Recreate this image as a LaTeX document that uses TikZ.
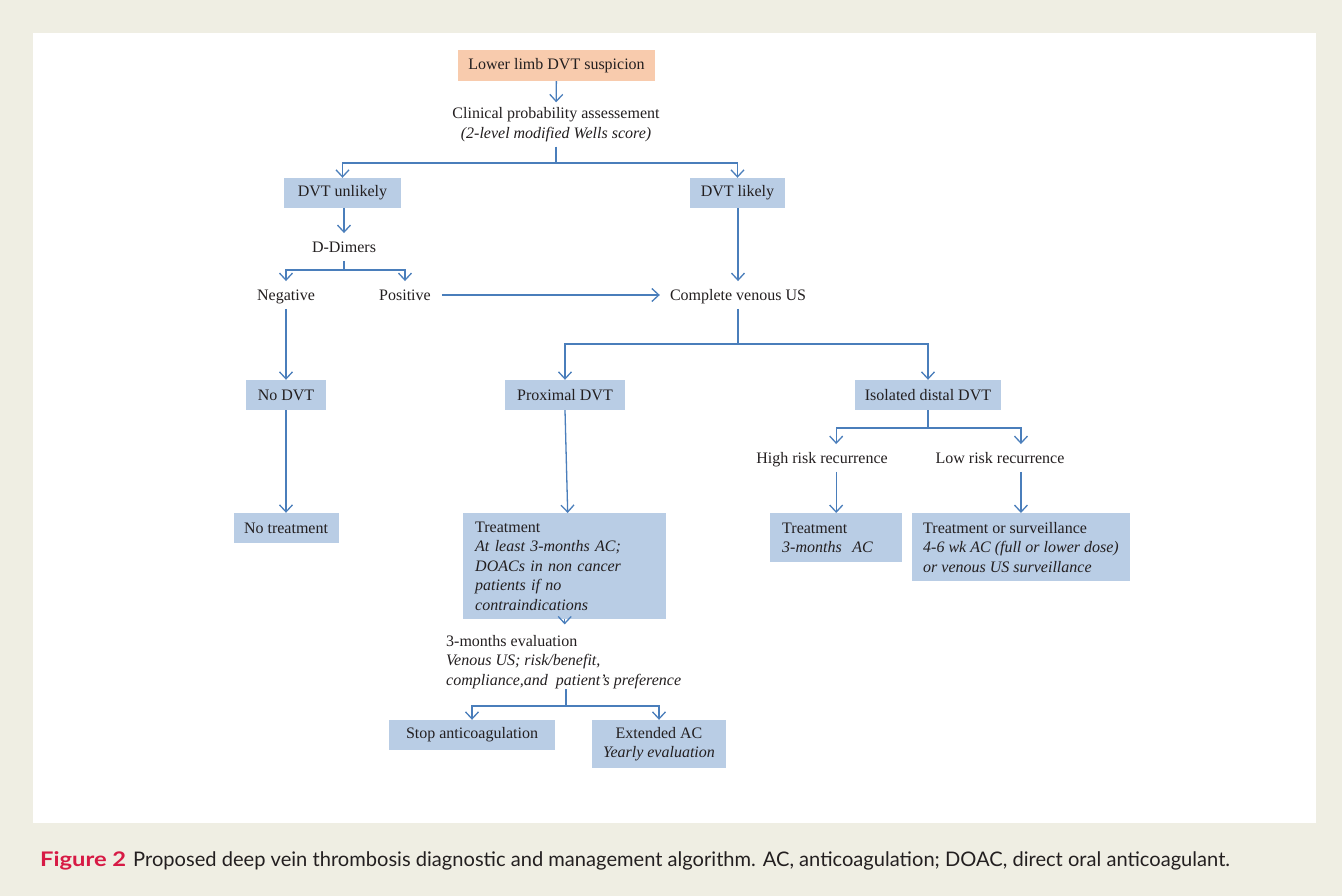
\documentclass[tikz,border=0pt]{standalone}
\usepackage{fontspec}
\setmainfont{Liberation Serif}
\newfontfamily\capfont{Lato}
\usetikzlibrary{arrows.meta}
\definecolor{bgout}{HTML}{EFEEE3}
\definecolor{boxblue}{HTML}{B9CDE5}
\definecolor{peach}{HTML}{F8CBAD}
\definecolor{arrblue}{HTML}{4A7EBB}
\definecolor{txtc}{HTML}{231F20}
\definecolor{figred}{HTML}{D71A45}
\begin{document}
\begin{tikzpicture}[x=1pt,y=-1pt,
  font=\fontsize{16}{19.5}\selectfont,
  every node/.style={text=txtc},
  box/.style={fill=boxblue, inner sep=0pt, align=center},
  tbox/.style={fill=boxblue, anchor=north west, inner xsep=12pt, inner ysep=4pt, align=left},
  txt/.style={inner xsep=2pt, inner ysep=5pt, align=center},
  one/.style={txt, text height=14pt, text depth=3.5pt},
  ln/.style={draw=arrblue, line width=1.3pt},
  arr/.style={draw=arrblue, line width=1.3pt, -{Straight Barb[length=7pt,width=13pt]}}]
\useasboundingbox (0,0) rectangle (1342,896);
\fill[bgout] (0,0) rectangle (1342,896);
\fill[white] (33,33) rectangle (1316,823);

% nodes
\node[box, fill=peach, minimum width=197pt, minimum height=31pt] (susp) at (556.5,65.5) {Lower limb DVT suspicion};
\node[txt] (clin) at (556,124.5) {Clinical probability assessement\\\textit{(2-level modified Wells score)}};
\node[box, minimum width=117pt, minimum height=30pt] (unl) at (342.5,193) {DVT unlikely};
\node[box, minimum width=95pt, minimum height=30pt] (lik) at (737.5,193) {DVT likely};
\node[one] (ddim) at (344,247) {D-Dimers};
\node[one] (neg) at (286,295) {Negative};
\node[one] (pos) at (405,295) {Positive};
\node[one] (cvus) at (738,295) {Complete venous US};
\node[box, minimum width=80pt, minimum height=30pt] (nodvt) at (286,395) {No DVT};
\node[box, minimum width=120pt, minimum height=30pt] (prox) at (565,395) {Proximal DVT};
\node[box, minimum width=146pt, minimum height=30pt] (iso) at (928,395) {Isolated distal DVT};
\node[box, minimum width=105pt, minimum height=30pt] (notr) at (286,528) {No treatment};
\node[tbox, text width=179pt, minimum height=106pt] (treat) at (463,513)
  {Treatment\\\textit{At least 3-months AC;}\\\textit{DOACs in non cancer}\\\textit{patients if no}\\\textit{contraindications}};
\node[one] (high) at (822,458) {High risk recurrence};
\node[one] (low) at (1000,458) {Low risk recurrence};
\node[tbox, text width=108pt, minimum height=49pt] (tr3) at (770,513)
  {Treatment\\\textit{3-months\ \ AC}};
\node[tbox, inner xsep=11pt, minimum width=216pt, minimum height=68pt] (tros) at (912,513)
  {Treatment or surveillance\\\textit{4-6 wk AC (full or lower dose)}\\\textit{or venous US surveillance}};
\node[anchor=north west, align=left, inner sep=0pt] (eval) at (446,635)
  {3-months evaluation\\\textit{Venous US; risk/benefit,}\\\textit{compliance,and\ \ patient’s preference}};
\node[box, minimum width=166pt, minimum height=30pt] (stop) at (472,735) {Stop anticoagulation};
\node[box, minimum width=134pt, minimum height=48pt] (ext) at (659,744) {Extended AC\\\textit{Yearly evaluation}};

% branch points
\coordinate (b1) at (556,163);
\coordinate (b2) at (344,270);
\coordinate (b3) at (738,344);
\coordinate (b4) at (928,428);
\coordinate (b5) at (566,706);

% connectors
\draw[arr] (susp) -- (clin);
\draw[ln] (clin.south) -- (b1);
\draw[arr] (b1) -| (unl.north);
\draw[arr] (b1) -| (lik.north);
\draw[arr] (ddim.north |- unl.south) -- (ddim.north);
\draw[ln] (ddim.south) -- (b2);
\draw[arr] (b2) -| (neg.north);
\draw[arr] (b2) -| (pos.north);
\draw[arr, shorten <=9pt, shorten >=8pt] (pos.east) -- (cvus.west);
\draw[arr] (cvus.north |- lik.south) -- (cvus.north);
\draw[ln] (cvus.south) -- (b3);
\draw[arr] (b3) -| (prox.north);
\draw[arr] (b3) -| (iso.north);
\draw[arr] (neg.south) -- (nodvt.north);
\draw[arr] (nodvt.south) -- (notr.north);
\draw[arr] (prox.south) -- ([xshift=3pt]treat.north);
\draw[ln] (iso.south) -- (b4);
\draw[arr] (b4) -| (tr3.north |- high.north);
\draw[arr] (b4) -| (tros.north |- low.north);
\draw[arr] (tr3.north |- high.south) -- (tr3.north);
\draw[arr] (tros.north |- low.south) -- (tros.north);
\draw[arr] (treat.south) -- ++(0,5);
\draw[ln] (b5 |- eval.south) -- (b5);
\draw[arr] (b5) -| (stop.north);
\draw[arr] (b5) -| (ext.north);

% caption
\node[anchor=west, inner sep=0pt, font=\capfont\fontsize{20.1}{24}\selectfont, text=txtc] (cap) at (40,861)
  {\textcolor{figred}{\scalebox{1.18}[1]{\bfseries Figure 2}}\hspace{7pt}Proposed deep vein thrombosis diagnostic and management algorithm. AC, anticoagulation; DOAC, direct oral anticoagulant.};
\end{tikzpicture}
\end{document}
